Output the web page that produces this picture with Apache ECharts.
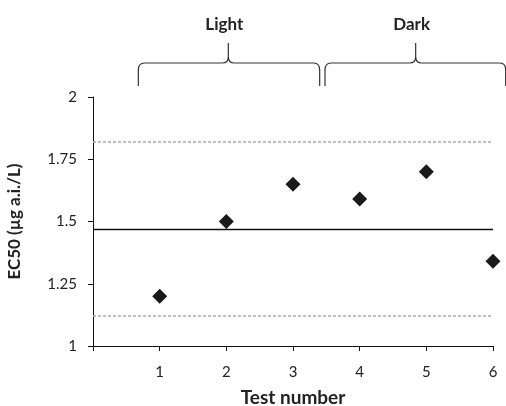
<!DOCTYPE html>
<html>
<head>
<meta charset="utf-8">
<script src="https://cdn.jsdelivr.net/npm/echarts@6/dist/echarts.min.js"></script>
<style>
  html, body { margin: 0; padding: 0; background: #fff; }
  #main { width: 506px; height: 406px; }
</style>
</head>
<body>
<div id="main"></div>
<script>
// 数据
const tests = [1, 2, 3, 4, 5, 6];
const ec50 = [1.20, 1.50, 1.65, 1.59, 1.70, 1.34];
const meanValue = 1.47;
const bandValues = [1.12, 1.82];
const yTicks = [1, 1.25, 1.5, 1.75, 2];
// 括号分组（x 方向数据单位）
const groups = [
  { name: 'Light', from: 0.68, to: 3.40, tip: 2.03 },
  { name: 'Dark', from: 3.48, to: 6.19, tip: 4.84 }
];

const FONT = 'Lato, "Liberation Sans", sans-serif';
const chart = echarts.init(document.getElementById('main'));

const option = {
  backgroundColor: '#fff',
  animation: false,
  grid: { left: 93, right: 13, top: 97, bottom: 60, outerBoundsMode: 'none', containLabel: false },
  xAxis: {
    type: 'value',
    min: 0,
    max: 6,
    interval: 1,
    name: 'Test number',
    nameLocation: 'middle',
    nameGap: 42,
    nameTextStyle: { fontFamily: FONT, fontWeight: 'bold', fontSize: 19, color: '#222' },
    axisLine: { lineStyle: { color: '#111', width: 1 } },
    axisTick: { show: true, length: 5, lineStyle: { color: '#111' } },
    axisLabel: {
      margin: 19,
      fontFamily: FONT, fontSize: 15, color: '#222',
      formatter: v => (v === 0 ? '' : String(v))
    },
    splitLine: { show: false }
  },
  yAxis: {
    type: 'value',
    min: yTicks[0],
    max: yTicks[yTicks.length - 1],
    interval: 0.25,
    name: 'EC50 (µg a.i./L)',
    nameLocation: 'middle',
    nameGap: 70,
    nameTextStyle: { fontFamily: FONT, fontWeight: 'bold', fontSize: 17, color: '#222' },
    axisLine: { show: true, lineStyle: { color: '#111', width: 1 } },
    axisTick: { show: true, length: 5, lineStyle: { color: '#111' } },
    axisLabel: { margin: 16, fontFamily: FONT, fontSize: 15, color: '#222' },
    splitLine: { show: false }
  },
  series: [{
    type: 'scatter',
    symbol: 'diamond',
    symbolSize: [15, 15],
    itemStyle: { color: '#1a1a1a', opacity: 1 },
    data: tests.map((t, i) => [t, ec50[i]]),
    z: 5,
    markLine: {
      silent: true,
      symbol: 'none',
      label: { show: false },
      data: [
        { yAxis: meanValue, lineStyle: { color: '#111', width: 1.3, type: 'solid' } },
        { yAxis: bandValues[0], lineStyle: { color: '#aaa', width: 1.5, type: [3, 2] } },
        { yAxis: bandValues[1], lineStyle: { color: '#aaa', width: 1.5, type: [3, 2] } }
      ]
    }
  }]
};

chart.setOption(option);

// 顶部括号和分组标题
const yEnd = 86, yMid = 63, yTop = 43, r = 6;
const braceStyle = { stroke: '#333', lineWidth: 1.2, fill: 'none' };
function line(x1, y1, x2, y2) {
  return { type: 'line', shape: { x1, y1, x2, y2 }, style: braceStyle };
}
function curve(x1, y1, cx, cy, x2, y2) {
  return { type: 'bezierCurve', shape: { x1, y1, cpx1: cx, cpy1: cy, x2, y2 }, style: braceStyle };
}

const graphics = [];
groups.forEach(g => {
  const x0 = chart.convertToPixel({ xAxisIndex: 0 }, g.from);
  const x1 = chart.convertToPixel({ xAxisIndex: 0 }, g.to);
  const xc = chart.convertToPixel({ xAxisIndex: 0 }, g.tip);
  graphics.push(
    line(x0, yEnd, x0, yMid + 7),
    curve(x0, yMid + 7, x0, yMid, x0 + r, yMid),
    line(x0 + r, yMid, xc - r, yMid),
    curve(xc - r, yMid, xc, yMid, xc, yMid - 6),
    line(xc, yMid - 6, xc, yTop),
    curve(xc + r, yMid, xc, yMid, xc, yMid - 6),
    line(xc + r, yMid, x1 - r, yMid),
    curve(x1 - r, yMid, x1, yMid, x1, yMid + 7),
    line(x1, yMid + 7, x1, yEnd)
  );
  graphics.push({
    type: 'text',
    x: xc - 4,
    y: 25,
    style: {
      text: g.name,
      font: `bold 17px ${FONT}`,
      fill: '#222',
      align: 'center',
      verticalAlign: 'middle'
    }
  });
});
chart.setOption({ graphic: graphics });
</script>
</body>
</html>
